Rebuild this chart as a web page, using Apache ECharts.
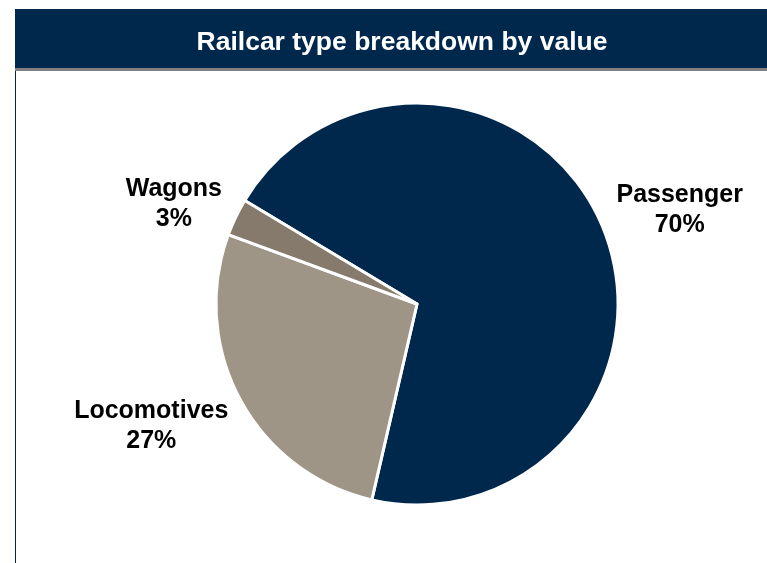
<!DOCTYPE html>
<html>
<head>
<meta charset="utf-8">
<script src="https://cdn.jsdelivr.net/npm/echarts@6/dist/echarts.min.js"></script>
<style>
  html, body { margin: 0; padding: 0; background: #fff; }
  #chart { width: 767px; height: 563px; }
</style>
</head>
<body>
<div id="chart"></div>
<script>
// data
const categories = ["Passenger", "Locomotives", "Wagons"];
const shares = [70, 27, 3];
const sliceColors = ["#00284d", "#9f9586", "#857a6c"];
// small label nudges (dx, dy) so the text sits where the original put it
const labelNudge = [[1, 1], [-14, 7], [14, 5]];

const navy = "#00284d";

let myChart = echarts.init(document.getElementById("chart"));

myChart.setOption({
  animation: false,
  title: {
    text: "Railcar type breakdown by value",
    left: 397,
    top: 38,
    textAlign: "center",
    textVerticalAlign: "middle",
    textStyle: {
      color: "#fff",
      fontFamily: "Liberation Sans",
      fontWeight: "bold",
      fontSize: 26.5,
    },
  },
  graphic: [
    // header band
    { type: "rect", z: -1, shape: { x: 15, y: 9, width: 752, height: 59 }, style: { fill: navy } },
    // grey rule under the header
    { type: "rect", z: -1, shape: { x: 15, y: 68, width: 752, height: 3 }, style: { fill: "#808080" } },
    // thin left border
    { type: "rect", z: -1, shape: { x: 15, y: 71, width: 1, height: 492 }, style: { fill: navy } },
  ],
  series: [
    {
      type: "pie",
      center: [417, 304],
      radius: [0, 201],
      startAngle: 149,
      clockwise: true,
      avoidLabelOverlap: false,
      itemStyle: {
        borderColor: "#fff",
        borderWidth: 3,
      },
      label: {
        show: true,
        position: "outside",
        formatter: "{b}\n{c}%",
        color: "#000",
        fontFamily: "Liberation Sans",
        fontWeight: "bold",
        fontSize: 25,
        lineHeight: 30,
        distanceToLabelLine: 0,
      },
      labelLine: {
        show: false,
        length: 42,
        length2: 38,
      },
      labelLayout: function (params) {
        // centre both lines on each other
        let n = labelNudge[params.dataIndex];
        return { align: "center", dx: n[0], dy: n[1] };
      },
      data: categories.map(function (name, i) {
        return { name: name, value: shares[i], itemStyle: { color: sliceColors[i] } };
      }),
    },
  ],
});
</script>
</body>
</html>
